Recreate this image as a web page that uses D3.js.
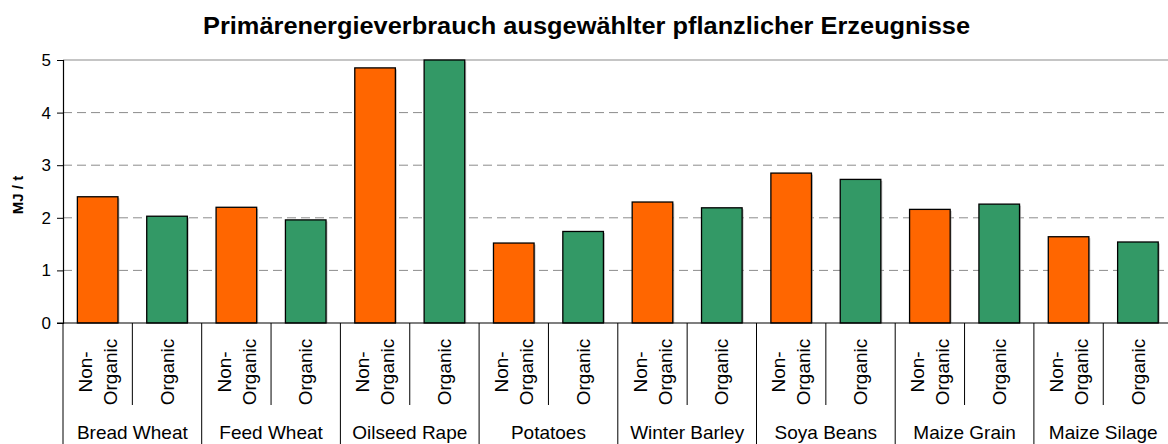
<!DOCTYPE html>
<html>
<head>
<meta charset="utf-8">
<script src="https://cdn.jsdelivr.net/npm/d3@7/dist/d3.min.js"></script>
<style>
  html, body { margin: 0; padding: 0; background: #fff; }
  svg { display: block; font-family: Arial, "Liberation Sans", sans-serif; }
</style>
</head>
<body>
<svg id="chart" width="1168" height="444"></svg>
<script>
const title = "Primärenergieverbrauch ausgewählter pflanzlicher Erzeugnisse";
const yLabel = "MJ / t";
const categories = ["Bread Wheat", "Feed Wheat", "Oilseed Rape", "Potatoes", "Winter Barley", "Soya Beans", "Maize Grain", "Maize Silage"];
const seriesNames = ["Non-Organic", "Organic"];
const seriesLabelLines = [["Non-", "Organic"], ["Organic"]];
const nonOrganic = [2.40, 2.20, 4.85, 1.52, 2.30, 2.85, 2.16, 1.64];
const organic    = [2.03, 1.96, 5.00, 1.74, 2.19, 2.73, 2.26, 1.54];
const yTicks = [0, 1, 2, 3, 4, 5];
const seriesColors = ["#FF6600", "#339966"];

const svg = d3.select("#chart");
const plotLeft = 63, plotRight = 1172.6, plotTop = 60, plotBottom = 323;

const x0 = d3.scaleBand().domain(categories).range([plotLeft, plotRight]).padding(0);
const x1 = d3.scaleBand().domain(seriesNames).range([0, x0.bandwidth()])
  .paddingInner(0.4146).paddingOuter(0.2073);
const xSlot = d3.scaleBand().domain(seriesNames).range([0, x0.bandwidth()]).padding(0);
const y = d3.scaleLinear().domain([0, 5]).range([plotBottom, plotTop]);

const data = categories.map((c, i) => ({ cat: c, vals: [nonOrganic[i], organic[i]] }));

// gridlines
svg.append("g").selectAll("line").data(yTicks.filter(t => t > 0 && t < 5)).join("line")
  .attr("x1", plotLeft).attr("x2", plotRight)
  .attr("y1", d => y(d)).attr("y2", d => y(d))
  .attr("stroke", "#8c8c8c").attr("stroke-width", 1)
  .attr("stroke-dasharray", "9,5");
svg.append("line")
  .attr("x1", plotLeft).attr("x2", plotRight)
  .attr("y1", y(5)).attr("y2", y(5))
  .attr("stroke", "#8c8c8c").attr("stroke-width", 1.2);

// bars
const groups = svg.append("g").selectAll("g").data(data).join("g")
  .attr("transform", d => `translate(${x0(d.cat)},0)`);
groups.selectAll("rect.shadow").data(d => d.vals.map((v, j) => ({ v, s: seriesNames[j], j }))).join("rect")
  .attr("class", "shadow")
  .attr("x", d => x1(d.s) + 1.5).attr("y", d => y(d.v) + 1.5)
  .attr("width", x1.bandwidth()).attr("height", d => y(0) - y(d.v) - 1.5)
  .attr("fill", "#999").attr("opacity", 0.6);
groups.selectAll("rect.bar").data(d => d.vals.map((v, j) => ({ v, s: seriesNames[j], j }))).join("rect")
  .attr("class", "bar")
  .attr("x", d => x1(d.s)).attr("y", d => y(d.v))
  .attr("width", x1.bandwidth()).attr("height", d => y(0) - y(d.v))
  .attr("fill", d => seriesColors[d.j])
  .attr("stroke", "#000").attr("stroke-width", 1.3);

// y axis
const yAxis = d3.axisLeft(y).tickValues(yTicks).tickSize(6).tickPadding(6).tickFormat(d3.format("d"));
const yg = svg.append("g").attr("transform", `translate(${plotLeft},0)`).call(yAxis);
yg.select(".domain").attr("stroke", "#000").attr("stroke-width", 1.2);
yg.selectAll(".tick line").attr("stroke", "#000");
yg.selectAll(".tick text").attr("font-size", 17).attr("fill", "#000")
  .attr("font-family", "Arial, 'Liberation Sans', sans-serif");

// x axis baseline
svg.append("line").attr("x1", plotLeft - 6).attr("x2", plotRight)
  .attr("y1", plotBottom).attr("y2", plotBottom)
  .attr("stroke", "#000").attr("stroke-width", 1.2);

// category separators
const slotEdges = [];
categories.forEach(c => seriesNames.forEach((s, j) => {
  if (j > 0) slotEdges.push({ x: x0(c) + xSlot(s), major: false });
}));
categories.forEach(c => slotEdges.push({ x: x0(c), major: true }));
slotEdges.push({ x: plotRight, major: true });
svg.append("g").selectAll("line").data(slotEdges).join("line")
  .attr("x1", d => d.x).attr("x2", d => d.x)
  .attr("y1", plotBottom).attr("y2", d => d.major ? 444 : 405)
  .attr("stroke", "#000").attr("stroke-width", 1);

// series labels (rotated)
const lineGap = 25;
categories.forEach(c => seriesNames.forEach((s, j) => {
  const cx = x0(c) + xSlot(s) + xSlot.bandwidth() / 2;
  const cy = 372;
  const lines = seriesLabelLines[j];
  const t = svg.append("text")
    .attr("transform", `translate(${cx},${cy}) rotate(-90)`)
    .attr("text-anchor", "middle").attr("font-size", 19).attr("fill", "#000");
  lines.forEach((ln, k) => {
    const off = (k - (lines.length - 1) / 2) * lineGap;
    t.append("tspan").attr("x", 0).attr("y", off).attr("dy", "0.35em").text(ln);
  });
}));

// category labels
svg.append("g").selectAll("text").data(categories).join("text")
  .attr("x", d => x0(d) + x0.bandwidth() / 2).attr("y", 439)
  .attr("text-anchor", "middle").attr("font-size", 19).attr("fill", "#000")
  .text(d => d);

// title
svg.append("text").attr("x", 586.5).attr("y", 34)
  .attr("text-anchor", "middle").attr("font-size", 23).attr("font-weight", "bold")
  .attr("textLength", 767).attr("lengthAdjust", "spacingAndGlyphs")
  .text(title);

// y label
svg.append("text").attr("transform", "translate(23,195) rotate(-90)")
  .attr("text-anchor", "middle").attr("font-size", 15).attr("font-weight", "bold")
  .text(yLabel);
</script>
</body>
</html>
